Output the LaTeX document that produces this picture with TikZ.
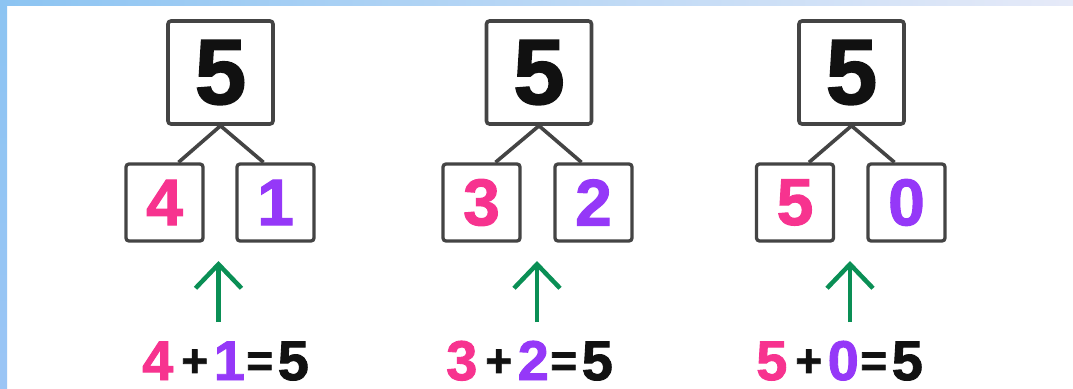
\documentclass[tikz,border=0pt]{standalone}
\usepackage{fontspec}
\setmainfont{Liberation Sans}
\newfontfamily\heavyfont[FakeBold=1.6]{Liberation Sans Bold}
\usetikzlibrary{arrows.meta,calc}
\definecolor{pinkc}{HTML}{F7338F}
\definecolor{purc}{HTML}{9538F8}
\definecolor{greenc}{HTML}{0A8F55}
\definecolor{boxc}{HTML}{444444}
\definecolor{inkc}{HTML}{111111}
\definecolor{bandl}{HTML}{8CC4F2}
\definecolor{bandr}{HTML}{E6EAF8}
\tikzset{
  bigbox/.style={draw=boxc, line width=3.6pt, rounded corners=3pt, minimum width=105pt, minimum height=103pt, inner sep=0pt, text=inkc, font=\fontsize{93}{93}\selectfont\heavyfont},
  smallbox/.style={draw=boxc, line width=3.3pt, rounded corners=3pt, minimum width=77pt, minimum height=77pt, inner sep=0pt, font=\fontsize{66}{66}\selectfont\heavyfont},
  branch/.style={draw=boxc, line width=3.6pt},
  uparrow/.style={draw=greenc, line width=4.5pt, -{Straight Barb[length=24pt, width=46pt, line width=4.5pt]}},
  eqn/.style={anchor=base west, inner sep=0pt, text=inkc, font=\fontsize{56}{56}\selectfont\heavyfont}
}
\newcommand{\opsym}[1]{\raisebox{3.5pt}{\fontsize{46}{46}\selectfont #1}}
\newcommand{\eqline}[3]{\textcolor{pinkc}{#1}\hspace{8pt}\opsym{+}\hspace{5.5pt}\textcolor{purc}{#2}\hspace{1.5pt}\opsym{=}\hspace{4.5pt}#3}
\begin{document}
\begin{tikzpicture}[x=1pt,y=-1pt]
\useasboundingbox (0,0) rectangle (1073,388);
\fill[white] (0,0) rectangle (1073,388);
\shade[left color=bandl, right color=bandr] (0,0) rectangle (1073,5);
\shade[top color=bandl, bottom color=bandl!80!white!95!blue] (0,0) rectangle (7,388);
% panel 1
\node[bigbox] (b1) at (220.5,72.5) {5};
\node[smallbox, text=pinkc] (l1) at (164.5,202.5) {4};
\node[smallbox, text=purc] (r1) at (275.5,202.5) {1};
\draw[branch] ([xshift=14pt]l1.north) -- (b1.south) -- ([xshift=-12pt]r1.north);
\coordinate (t1) at (218.5,322);
\coordinate (h1) at (218.5,261);
\draw[uparrow] (t1) -- (h1);
\node[eqn] (e1) at (142,380) {\eqline{4}{1}{5}};
% panel 2
\node[bigbox] (b2) at (539,72.5) {5};
\node[smallbox, text=pinkc] (l2) at (481.5,202.5) {3};
\node[smallbox, text=purc] (r2) at (593.5,202.5) {2};
\draw[branch] ([xshift=14pt]l2.north) -- (b2.south) -- ([xshift=-12pt]r2.north);
\coordinate (t2) at (537,322);
\coordinate (h2) at (537,261);
\draw[uparrow] (t2) -- (h2);
\node[eqn] (e2) at (446,380) {\eqline{3}{2}{5}};
% panel 3
\node[bigbox] (b3) at (851.5,72.5) {5};
\node[smallbox, text=pinkc] (l3) at (795,202.5) {5};
\node[smallbox, text=purc] (r3) at (906.5,202.5) {0};
\draw[branch] ([xshift=14pt]l3.north) -- (b3.south) -- ([xshift=-12pt]r3.north);
\coordinate (t3) at (850,322);
\coordinate (h3) at (850,261);
\draw[uparrow] (t3) -- (h3);
\node[eqn] (e3) at (756,380) {\eqline{5}{0}{5}};
\end{tikzpicture}
\end{document}
